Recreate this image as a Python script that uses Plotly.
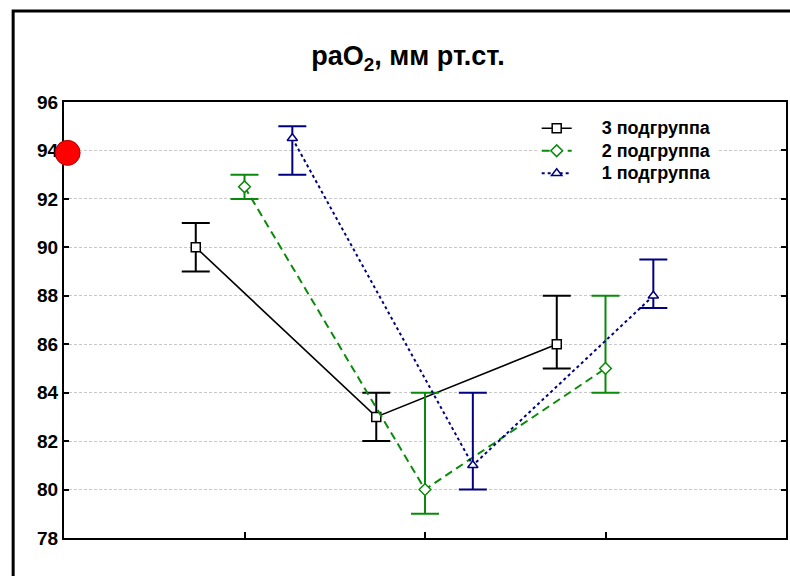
import plotly.graph_objects as go

# Measurement stages (x positions 1..3), each group slightly offset
stages = [1, 2, 3]
offsets = {"3 подгруппа": -0.27, "2 подгруппа": 0.0, "1 подгруппа": 0.265}

# Mean values and upper / lower bounds per subgroup
g3_mean = [90.0, 83.0, 86.0]
g3_high = [91.0, 84.0, 88.0]
g3_low = [89.0, 82.0, 85.0]

g2_mean = [92.5, 80.0, 85.0]
g2_high = [93.0, 84.0, 88.0]
g2_low = [92.0, 79.0, 84.0]

g1_mean = [94.5, 81.0, 88.0]
g1_high = [95.0, 84.0, 89.5]
g1_low = [93.0, 80.0, 87.5]

# Reference (normal) level shown on the axis
norm_value = 93.9

y_ticks = [78, 80, 82, 84, 86, 88, 90, 92, 94, 96]

series = [
    ("3 подгруппа", g3_mean, g3_high, g3_low, "#000000", "solid", "square", 1.6),
    ("2 подгруппа", g2_mean, g2_high, g2_low, "#0a8a0a", "8px,5px", "diamond", 2.0),
    ("1 подгруппа", g1_mean, g1_high, g1_low, "#000080", "3px,3px", "triangle-up", 2.0),
]

fig = go.Figure()

for name, mean, high, low, color, dash, symbol, lw in series:
    xs = [s + offsets[name] for s in stages]
    label = '<span style="font-size:18px">' + "\u00a0" * 5 + name + "</span>"
    fig.add_trace(go.Scatter(
        x=xs, y=mean, name=label, mode="lines+markers",
        line=dict(color=color, width=lw, dash=dash),
        marker=dict(symbol=symbol, size=9, color="white",
                    line=dict(color=color, width=1.5)),
        error_y=dict(type="data", symmetric=False,
                     array=[h - m for h, m in zip(high, mean)],
                     arrayminus=[m - l for m, l in zip(mean, low)],
                     color=color, thickness=2, width=14),
        cliponaxis=False,
    ))

fig.add_trace(go.Scatter(
    x=[0.02], y=[norm_value], mode="markers", showlegend=False,
    marker=dict(symbol="circle", size=25, color="#ff0000",
                line=dict(color="#b00000", width=1)),
    cliponaxis=False, hoverinfo="skip",
))

font_family = "Liberation Sans, Arial, sans-serif"

fig.update_layout(
    width=790, height=576,
    margin=dict(l=64, r=2, t=102, b=38),
    paper_bgcolor="white", plot_bgcolor="white",
    font=dict(family=font_family, color="black"),
    title=dict(text="<b>paO<sub>2</sub>, мм рт.ст.</b>",
               x=408 / 790, xref="container", xanchor="center",
               y=1 - 56 / 576, yref="container", yanchor="middle",
               font=dict(size=27, family=font_family, color="black")),
    legend=dict(x=(538 - 64) / 724, xanchor="left",
                y=(538 - 112) / 436, yanchor="top",
                bgcolor="white", borderwidth=0,
                font=dict(size=15, family=font_family, color="black",
                          weight="bold"),
                tracegroupgap=0),
    showlegend=True,
)

fig.update_xaxes(
    range=[0, 4], tickvals=stages, showticklabels=False,
    showgrid=False, zeroline=False,
    showline=True, linecolor="black", linewidth=2, mirror=True,
    ticks="inside", ticklen=6, tickwidth=1.5, tickcolor="black",
    layer="below traces",
)
fig.update_yaxes(
    range=[78, 96], tickvals=y_ticks,
    showgrid=True, gridcolor="#c8c8c8", gridwidth=1, griddash="3px,2px",
    zeroline=False,
    showline=True, linecolor="black", linewidth=2, mirror="ticks",
    ticks="inside", ticklen=5, tickwidth=1.5, tickcolor="black",
    tickfont=dict(size=19, family=font_family, color="black", weight="bold"),
    layer="below traces",
)

# Outer frame around the whole chart
fig.add_shape(type="rect", xref="paper", yref="paper",
              x0=(13 - 64) / 724, x1=1.1, y0=-0.3, y1=(538 - 11) / 436,
              line=dict(color="black", width=3), fillcolor="rgba(0,0,0,0)")

fig.write_html("out.html")
